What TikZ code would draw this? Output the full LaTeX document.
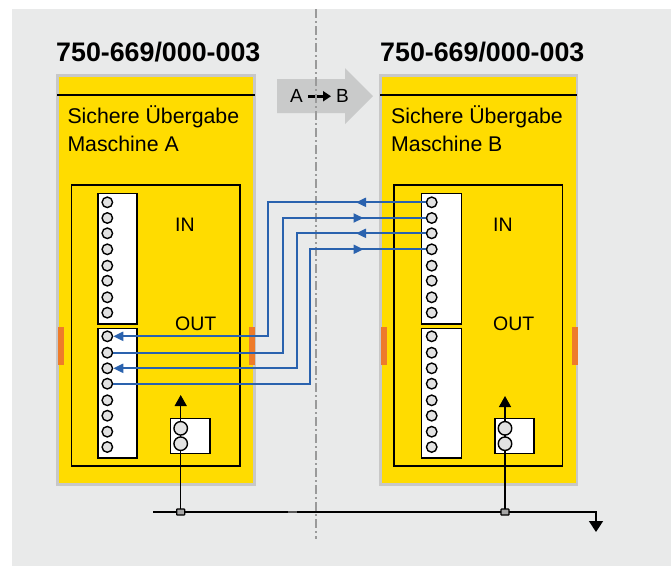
\documentclass[tikz,border=0pt]{standalone}
\usepackage{fontspec}
\setmainfont{Liberation Sans}
\usetikzlibrary{arrows.meta}
\definecolor{bg}{HTML}{E9EAEA}
\definecolor{modgray}{HTML}{C8C8C8}
\definecolor{ylw}{HTML}{FFDC00}
\definecolor{org}{HTML}{EE7B2A}
\definecolor{wireblue}{HTML}{2A62AE}
\definecolor{termgray}{HTML}{E2E2E2}
\definecolor{arrgray}{HTML}{C9CACA}
\definecolor{axisgray}{HTML}{9A9A9A}
\begin{document}
\begin{tikzpicture}[x=1pt,y=-1pt,
  term/.style={circle,draw=black,fill=termgray,line width=1.4pt,minimum size=10.5pt,inner sep=0pt},
  pterm/.style={circle,draw=black,fill=termgray,line width=1.4pt,minimum size=13.5pt,inner sep=0pt},
  stripbox/.style={draw=black,fill=white,line width=1.5pt},
  titletext/.style={anchor=base west,inner sep=0pt,font=\fontsize{26.8}{32}\selectfont\bfseries},
  lbl/.style={anchor=base west,inner sep=0pt,font=\fontsize{21.3}{25}\selectfont},
  iolbl/.style={anchor=base west,inner sep=0pt,font=\fontsize{19.5}{24}\selectfont},
  wire/.style={draw=wireblue,line width=2pt},
  wtip/.style={-{Triangle[length=10pt,width=9pt]}},
  junc/.style={rectangle,draw=black,fill=black!35,line width=1.2pt,minimum width=8pt,minimum height=6pt,inner sep=0pt,rounded corners=0.6pt},
  busline/.style={draw=black,line width=1.5pt}
]
\useasboundingbox (0,0) rectangle (671,566);
\fill[bg] (12,9) rectangle (671,566);

% transfer arrow
\fill[arrgray] (277,79) -- (345,79) -- (345,68) -- (373,96) -- (345,124) -- (345,113) -- (277,113) -- cycle;
\node[anchor=base east,inner sep=0pt,font=\fontsize{19}{23}\selectfont] (A) at (303,102.8) {A};
\node[anchor=base west,inner sep=0pt,font=\fontsize{19}{23}\selectfont] (B) at (336,102.8) {B};
\draw[line width=3pt,-{Triangle[length=8pt,width=10pt]},shorten <=5pt,shorten >=5pt] (A) -- (B);

% axis
\draw[axisgray,line width=1.5pt,dash pattern=on 9pt off 3pt on 2pt off 3pt] (316,9) -- (316,539);

% titles
\node[titletext] (tA) at (56,61.5) {750-669/000-003};
\node[titletext] (tB) at (380,61.5) {750-669/000-003};

% module A
\fill[modgray] (56,74) rectangle (256,486);
\fill[ylw] (59,77) rectangle (253,483);
\draw[line width=2pt] (57,95) -- (255,95);
\fill[org] (57.5,327) rectangle (63.5,364.5);
\fill[org] (249,327) rectangle (255,364.5);
\draw[line width=1.5pt] (71.5,185) rectangle (240,466);
\draw[stripbox] (98,193.7) rectangle (137,324);
\draw[stripbox] (98,328.3) rectangle (137,458);
\draw[stripbox] (170.7,418.3) rectangle (210,453.3);
\node[lbl] (sA1) at (67.3,123.3) {Sichere Übergabe};
\node[lbl] (sA2) at (67.3,151.7) {Maschine A};
\node[iolbl] (inA) at (175,231) {IN};
\node[iolbl] (outA) at (175,330) {OUT};

% module B
\fill[modgray] (379,74) rectangle (578,486);
\fill[ylw] (382,77) rectangle (575.5,483);
\draw[line width=2pt] (380,95) -- (577,95);
\fill[org] (381,327) rectangle (387,364.5);
\fill[org] (571.5,327) rectangle (577.5,364.5);
\draw[line width=1.5pt] (394,185) rectangle (562.7,466);
\draw[stripbox] (421.7,193.7) rectangle (461.3,324);
\draw[stripbox] (421.7,328.3) rectangle (461.3,458);
\draw[stripbox] (495,418.3) rectangle (534,453.3);
\node[lbl] (sB1) at (391,123.3) {Sichere Übergabe};
\node[lbl] (sB2) at (391,151.7) {Maschine B};
\node[iolbl] (inB) at (493,231) {IN};
\node[iolbl] (outB) at (493,330) {OUT};

% bus
\coordinate (busL) at (153,512);
\coordinate (busR) at (596,512);
\coordinate (gnd) at (596,532);
\draw[busline,-{Triangle[length=11pt,width=14pt]}] (busL) -- (busR) -- (gnd);
\fill[black!65] (288,510.6) rectangle (297,513.4);
\coordinate (jLc) at (180.7,512);
\coordinate (jRc) at (505,512);
\draw[busline,-{Triangle[length=11pt,width=12pt]}] (jLc) -- (180.7,395);
\draw[busline,-{Triangle[length=11pt,width=12pt]}] (jRc) -- (505,396);
\node[junc] (jL) at (jLc) {};
\node[junc] (jR) at (jRc) {};
\node[pterm] (pA1) at (180.7,428.3) {};
\node[pterm] (pA2) at (180.7,443.7) {};
\node[pterm] (pB1) at (505,428.3) {};
\node[pterm] (pB2) at (505,443.7) {};

% terminals
\foreach \y [count=\i] in {202.3,218,233.3,249.3,265.7,280.7,297.3,312.7}{
  \node[term] (lin\i) at (107.3,\y) {};
  \node[term] (rin\i) at (431.7,\y) {};
}
\foreach \y [count=\i] in {336.3,352.7,368.3,383.7,400.3,415.7,431.7,447}{
  \node[term] (lout\i) at (107.3,\y) {};
  \node[term] (rout\i) at (431.7,\y) {};
}

% wires
\draw[wire,wtip] (rin1.west) -- (268.3,202.3) |- (lout1.east);
\draw[wire] (rin2.west) -- (283.3,218) |- (lout2.east);
\draw[wire,wtip] (rin3.west) -- (297.3,233.3) |- (lout3.east);
\draw[wire] (rin4.west) -- (310.3,249.3) |- (lout4.east);
\draw[wire,wtip] (370,202.3) -- (356,202.3);
\draw[wire,wtip] (349,218) -- (363.5,218);
\draw[wire,wtip] (370,233.3) -- (356,233.3);
\draw[wire,wtip] (349,249.3) -- (363.5,249.3);
\end{tikzpicture}
\end{document}
